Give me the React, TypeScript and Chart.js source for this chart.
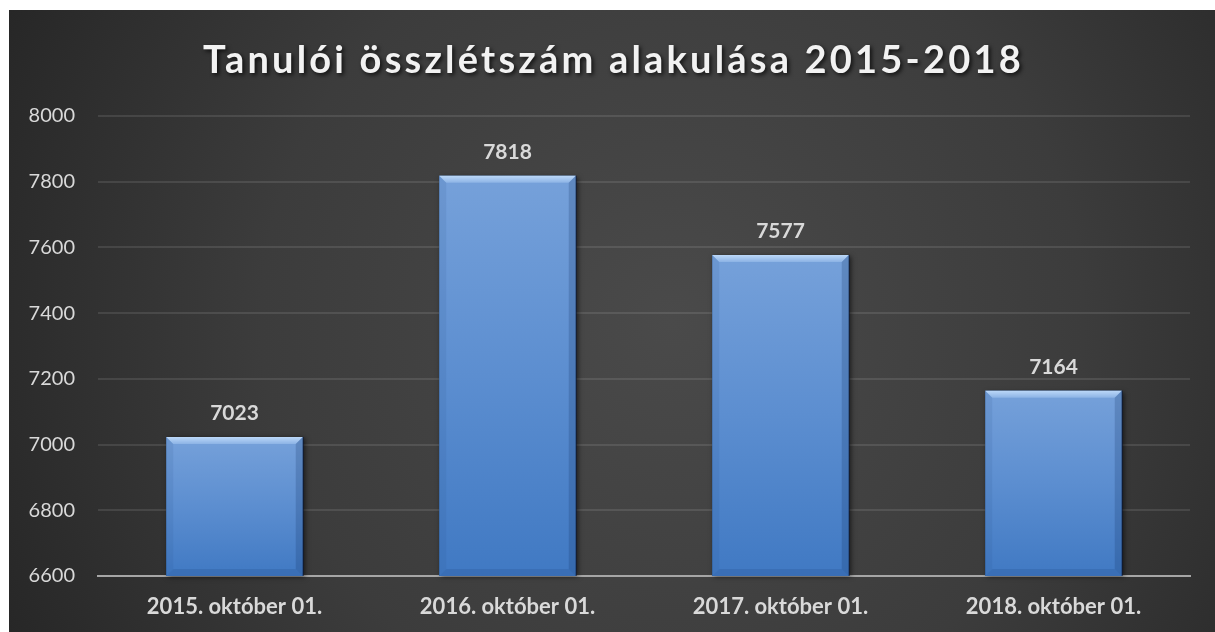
import React, { useEffect, useRef } from "react";
import { Chart, registerables } from "chart.js";

Chart.register(...registerables);

const chartTitle = "Tanulói összlétszám alakulása 2015-2018";
const categories = [
  "2015. október 01.",
  "2016. október 01.",
  "2017. október 01.",
  "2018. október 01.",
];
const studentCounts = [7023, 7818, 7577, 7164];
const yMin = 6600;
const yMax = 8000;
const yStep = 200;

const FONT = "Lato, 'Open Sans', sans-serif";

const backgroundPlugin = {
  id: "bgPlugin",
  beforeDraw(chart: any) {
    const { ctx, width, height } = chart;
    ctx.save();
    const g = ctx.createRadialGradient(width * 0.55, height * 0.5, 0, width * 0.55, height * 0.5, width * 0.62);
    g.addColorStop(0, "#4a4a4a");
    g.addColorStop(0.55, "#3c3c3c");
    g.addColorStop(1, "#262626");
    ctx.fillStyle = g;
    ctx.fillRect(0, 0, width, height);
    ctx.restore();
  },
};

const titlePlugin = {
  id: "titlePlugin",
  afterDraw(chart: any) {
    const { ctx, width } = chart;
    ctx.save();
    ctx.font = `bold 38px ${FONT}`;
    (ctx as any).letterSpacing = "3.2px";
    ctx.textAlign = "center";
    ctx.textBaseline = "alphabetic";
    ctx.shadowColor = "rgba(0,0,0,0.75)";
    ctx.shadowBlur = 4;
    ctx.shadowOffsetX = 2;
    ctx.shadowOffsetY = 2;
    ctx.fillStyle = "#f2f2f2";
    ctx.fillText(chartTitle, width / 2 + 1.5, 63);
    ctx.restore();
  },
};

function barBox(chart: any, bar: any) {
  const { x, y, base, width } = bar.getProps(["x", "y", "base", "width"], true);
  const bottom = Math.min(base, chart.chartArea.bottom);
  return { l: x - width / 2, r: x + width / 2, t: y, b: bottom, x };
}

const barDecorPlugin = {
  id: "barDecor",
  beforeDatasetsDraw(chart: any) {
    const { ctx } = chart;
    const meta = chart.getDatasetMeta(0);
    ctx.save();
    meta.data.forEach((bar: any) => {
      const { l, r, t, b } = barBox(chart, bar);
      ctx.shadowColor = "rgba(0,0,0,0.6)";
      ctx.shadowBlur = 5;
      ctx.shadowOffsetX = 2;
      ctx.shadowOffsetY = 1;
      ctx.fillStyle = "#1d3c66";
      ctx.fillRect(l, t, r - l, b - t);
    });
    ctx.restore();
  },
  afterDatasetsDraw(chart: any) {
    const { ctx } = chart;
    const meta = chart.getDatasetMeta(0);
    ctx.save();
    meta.data.forEach((bar: any, i: number) => {
      const { l, r, t, b, x } = barBox(chart, bar);
      const bv = 7;
      // top bevel
      const tg = ctx.createLinearGradient(0, t, 0, t + bv);
      tg.addColorStop(0, "#bcd8f8");
      tg.addColorStop(1, "#8cb3e5");
      ctx.fillStyle = tg;
      ctx.beginPath();
      ctx.moveTo(l, t);
      ctx.lineTo(r, t);
      ctx.lineTo(r - bv, t + bv);
      ctx.lineTo(l + bv, t + bv);
      ctx.closePath();
      ctx.fill();
      // left bevel
      ctx.fillStyle = "rgba(40,80,140,0.12)";
      ctx.beginPath();
      ctx.moveTo(l, t);
      ctx.lineTo(l + bv, t + bv);
      ctx.lineTo(l + bv, b - bv);
      ctx.lineTo(l, b);
      ctx.closePath();
      ctx.fill();
      // right bevel
      ctx.fillStyle = "rgba(20,50,100,0.22)";
      ctx.beginPath();
      ctx.moveTo(r, t);
      ctx.lineTo(r - bv, t + bv);
      ctx.lineTo(r - bv, b - bv);
      ctx.lineTo(r, b);
      ctx.closePath();
      ctx.fill();
      // bottom bevel
      ctx.fillStyle = "rgba(30,70,130,0.2)";
      ctx.beginPath();
      ctx.moveTo(l, b);
      ctx.lineTo(l + bv, b - bv);
      ctx.lineTo(r - bv, b - bv);
      ctx.lineTo(r, b);
      ctx.closePath();
      ctx.fill();
      // dark outline right
      ctx.strokeStyle = "rgba(10,25,60,0.7)";
      ctx.lineWidth = 1;
      ctx.beginPath();
      ctx.moveTo(r + 0.5, t);
      ctx.lineTo(r + 0.5, b);
      ctx.stroke();

      // data label
      ctx.font = `bold 21px ${FONT}`;
      ctx.fillStyle = "#d9d9d9";
      ctx.textAlign = "center";
      ctx.textBaseline = "alphabetic";
      ctx.fillText(String(studentCounts[i]), x, t - 17);
    });
    ctx.restore();
  },
};

export default function App() {
  const canvasRef = useRef<HTMLCanvasElement | null>(null);

  useEffect(() => {
    if (!canvasRef.current) return;
    const chart = new Chart(canvasRef.current, {
      type: "bar",
      data: {
        labels: categories,
        datasets: [
          {
            label: "Tanulói összlétszám",
            data: studentCounts,
            backgroundColor: (c: any) => {
              const ch = c.chart;
              const area = ch.chartArea;
              if (!area || c.raw == null) return "#4f86cc";
              const top = ch.scales.y.getPixelForValue(c.raw);
              const g = ch.ctx.createLinearGradient(0, top, 0, area.bottom);
              g.addColorStop(0, "#76a1da");
              g.addColorStop(0.5, "#5c8ed0");
              g.addColorStop(1, "#4079c3");
              return g;
            },
            borderWidth: 0,
            categoryPercentage: 1,
            barPercentage: 0.5,
          },
        ],
      },
      options: {
        animation: false,
        responsive: true,
        maintainAspectRatio: false,
        layout: { padding: { top: 106, right: 25, left: 0, bottom: 0 } },
        plugins: {
          legend: { display: false },
          title: { display: false },
          tooltip: { enabled: false },
        },
        scales: {
          x: {
            grid: { display: false, drawTicks: false },
            border: { display: true, color: "#a6a6a6", width: 2 },
            ticks: {
              color: "#d9d9d9",
              font: { family: FONT, size: 22, weight: "bold" },
              padding: 18,
              maxRotation: 0,
            },
            afterFit: (s: any) => {
              s.height = 56;
            },
          },
          y: {
            min: yMin,
            max: yMax,
            grid: { color: "rgba(255,255,255,0.1)", lineWidth: 2, drawTicks: false },
            border: { display: false },
            ticks: {
              stepSize: yStep,
              color: "#d9d9d9",
              font: { family: FONT, size: 20 },
              padding: 23,
              callback: (v: any) => String(v),
            },
            afterFit: (s: any) => {
              s.width = 89;
            },
          },
        },
      },
      plugins: [backgroundPlugin, barDecorPlugin, titlePlugin],
    });
    return () => chart.destroy();
  }, []);

  return (
    <div style={{ position: "absolute", left: 9, top: 10, width: 1206, height: 622 }}>
      <canvas ref={canvasRef} />
    </div>
  );
}
